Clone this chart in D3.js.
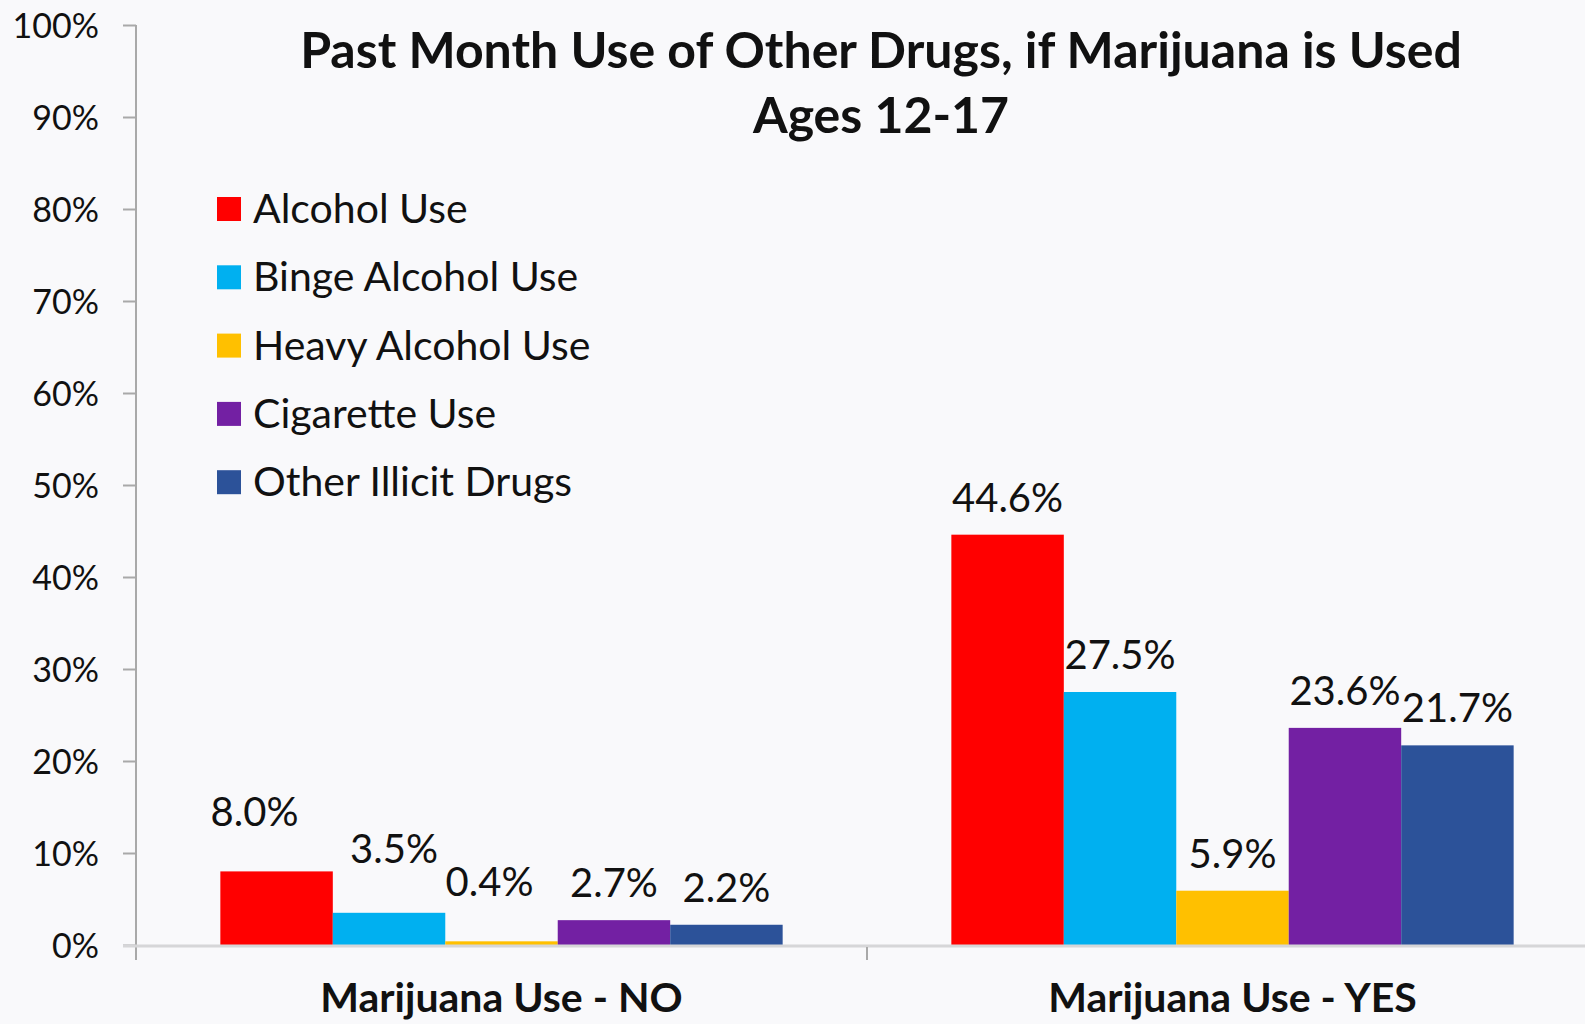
<!DOCTYPE html>
<html>
<head>
<meta charset="utf-8">
<script src="https://cdn.jsdelivr.net/npm/d3@7"></script>
<style>
  html, body { margin: 0; padding: 0; background: #f9f9fb; overflow: hidden; }
  svg { display: block; }
  text { font-family: Lato, "Open Sans", sans-serif; fill: #111; }
</style>
</head>
<body>
<svg id="chart" width="1585" height="1024"></svg>
<script>
// Past-month use of other substances among 12-17 year olds, split by marijuana use
const categories = ["Marijuana Use - NO", "Marijuana Use - YES"];
const seriesNames = ["Alcohol Use", "Binge Alcohol Use", "Heavy Alcohol Use", "Cigarette Use", "Other Illicit Drugs"];
const seriesColors = ["#ff0000", "#00b0f0", "#ffc000", "#7320a3", "#2c5299"];
const valuesNo  = [8.0, 3.5, 0.4, 2.7, 2.2];
const valuesYes = [44.6, 27.5, 5.9, 23.6, 21.7];
const yTicks = [0, 10, 20, 30, 40, 50, 60, 70, 80, 90, 100];
const titleLines = ["Past Month Use of Other Drugs, if Marijuana is Used", "Ages 12-17"];

const rows = [];
categories.forEach((c, ci) => {
  const vals = ci === 0 ? valuesNo : valuesYes;
  seriesNames.forEach((s, si) => rows.push({ category: c, series: s, value: vals[si], ci, si }));
});

const svg = d3.select("#chart");
const W = 1585, H = 1024;
const plotLeft = 136, plotBottom = 945, plotTop = 25;
const bandW = 731;

svg.append("rect").attr("width", W).attr("height", H).attr("fill", "#f9f9fb");

const x0 = d3.scaleBand().domain(categories).range([plotLeft, plotLeft + bandW * categories.length]).padding(0);
const barW = bandW / (seriesNames.length + 1.5);
const x1 = d3.scaleBand().domain(seriesNames).range([barW * 0.75, bandW - barW * 0.75]).padding(0);
const y = d3.scaleLinear().domain([0, 100]).range([plotBottom, plotTop]);
const color = d3.scaleOrdinal().domain(seriesNames).range(seriesColors);

// y axis
const yAxis = d3.axisLeft(y).tickValues(yTicks).tickFormat(d => d + "%").tickSize(13).tickPadding(24);
const gy = svg.append("g").attr("transform", `translate(${plotLeft},0)`).call(yAxis);
gy.select(".domain").remove();
gy.selectAll(".tick line").attr("stroke", "#a9a9a9").attr("stroke-width", 2);
gy.selectAll(".tick text")
  .attr("font-family", "Lato, sans-serif").attr("font-size", 34).attr("fill", "#1a1a1a")
  .attr("dy", "0.36em");
svg.append("line").attr("x1", plotLeft).attr("x2", plotLeft).attr("y1", plotTop).attr("y2", plotBottom + 15)
  .attr("stroke", "#a9a9a9").attr("stroke-width", 2);

// bars
svg.append("g").selectAll("rect").data(rows).join("rect")
  .attr("x", d => x0(d.category) + x1(d.series))
  .attr("width", x1.bandwidth())
  .attr("y", d => y(d.value))
  .attr("height", d => y(0) - y(d.value))
  .attr("fill", d => color(d.series));

// category baseline and divider tick
svg.append("line").attr("x1", plotLeft - 13).attr("x2", W).attr("y1", plotBottom + 1).attr("y2", plotBottom + 1)
  .attr("stroke", "#d6d6d8").attr("stroke-width", 3);
categories.slice(1).forEach(c => {
  svg.append("line").attr("x1", x0(c)).attr("x2", x0(c)).attr("y1", plotBottom + 2).attr("y2", plotBottom + 15)
    .attr("stroke", "#a9a9a9").attr("stroke-width", 2);
});

// value labels (a few small-bar labels are lifted/shifted to avoid crowding)
const labelShift = { "0-0": [-22, -22], "0-1": [5, -27], "0-2": [-12, -22] };
svg.append("g").selectAll("text").data(rows).join("text")
  .attr("x", d => x0(d.category) + x1(d.series) + x1.bandwidth() / 2 + ((labelShift[d.ci + "-" + d.si] || [0, 0])[0]))
  .attr("y", d => y(d.value) - 23 + ((labelShift[d.ci + "-" + d.si] || [0, 0])[1]))
  .attr("text-anchor", "middle")
  .attr("font-size", 40)
  .attr("fill", "#1a1a1a")
  .text(d => d3.format(".1f")(d.value) + "%");

// category labels
svg.append("g").selectAll("text").data(categories).join("text")
  .attr("x", d => x0(d) + bandW / 2)
  .attr("y", 1012)
  .attr("text-anchor", "middle")
  .attr("font-size", 41)
  .attr("font-weight", 700)
  .text(d => d);

// title
svg.append("g").selectAll("text").data(titleLines).join("text")
  .attr("x", 881)
  .attr("y", (d, i) => 68 + i * 65)
  .attr("text-anchor", "middle")
  .attr("font-size", 50)
  .attr("font-weight", 700)
  .text(d => d);

// legend
const legend = svg.append("g").attr("transform", "translate(217,197)");
const li = legend.selectAll("g").data(seriesNames).join("g")
  .attr("transform", (d, i) => `translate(0,${i * 68.3})`);
li.append("rect").attr("width", 24).attr("height", 24).attr("fill", d => color(d));
li.append("text").attr("x", 36).attr("y", 26).attr("font-size", 41).attr("fill", "#1a1a1a").text(d => d);
</script>
</body>
</html>
